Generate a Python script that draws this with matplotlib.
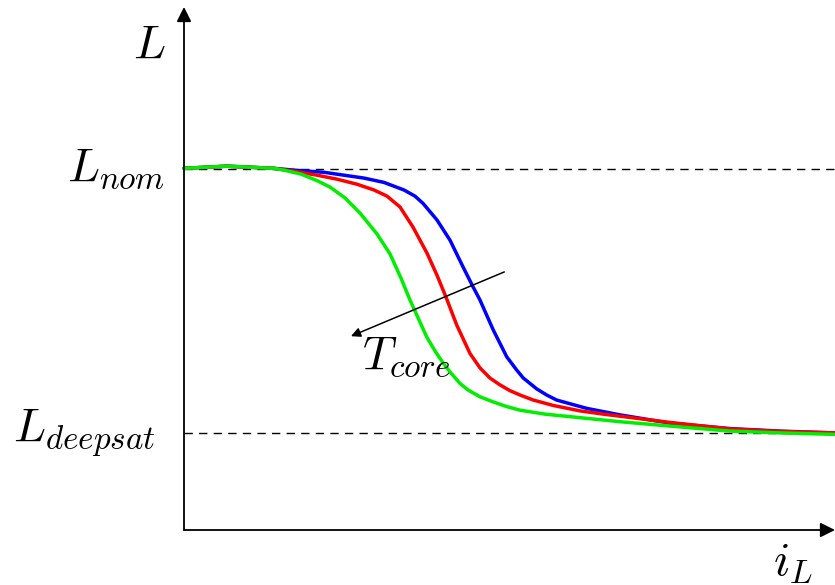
import numpy as np
import matplotlib
matplotlib.use("Agg")
import matplotlib.pyplot as plt

plt.rcParams['mathtext.fontset'] = 'cm'

# inductance vs. current, normalised so that L_nom = 1
L_NOM = 1.0
L_DEEPSAT = 0.27

# blue curve (lowest core temperature)
i_blue = [0.000, 0.661, 1.382, 1.690, 2.151, 2.458, 2.765, 3.072, 3.379, 3.548,
          3.671, 3.886, 4.086, 4.286, 4.439, 4.547, 4.751, 4.957, 5.111, 5.212,
          5.418, 5.571, 5.725, 6.186, 6.697, 7.465, 8.387, 9.155, 9.985]
L_blue = [1.002, 1.008, 1.002, 0.997, 0.991, 0.983, 0.975, 0.963, 0.942, 0.925,
          0.905, 0.859, 0.803, 0.729, 0.674, 0.637, 0.554, 0.480, 0.443, 0.421,
          0.391, 0.374, 0.360, 0.337, 0.319, 0.296, 0.281, 0.274, 0.269]

# red curve
i_red = [0.000, 0.661, 1.382, 1.690, 2.043, 2.350, 2.657, 2.919, 3.118, 3.318,
         3.518, 3.733, 3.886, 4.025, 4.189, 4.393, 4.547, 4.700, 4.854, 5.008,
         5.161, 5.366, 5.673, 6.083, 6.441, 7.465, 8.387, 9.155, 9.985]
L_red = [1.002, 1.008, 1.002, 0.994, 0.983, 0.972, 0.958, 0.942, 0.925, 0.895,
         0.839, 0.767, 0.706, 0.645, 0.568, 0.489, 0.449, 0.421, 0.402, 0.386,
         0.374, 0.360, 0.345, 0.330, 0.321, 0.298, 0.280, 0.273, 0.269]

# green curve (highest core temperature)
i_green = [0.000, 0.661, 1.382, 1.536, 1.797, 2.043, 2.243, 2.473, 2.704, 2.965,
           3.164, 3.333, 3.472, 3.728, 3.856, 3.983, 4.086, 4.240, 4.363, 4.547,
           4.747, 4.957, 5.161, 5.545, 5.929, 6.697, 7.465, 8.387, 9.155, 9.985]
L_green = [1.002, 1.008, 1.002, 0.997, 0.986, 0.968, 0.950, 0.920, 0.878, 0.820,
           0.765, 0.698, 0.637, 0.535, 0.496, 0.462, 0.438, 0.406, 0.388, 0.369,
           0.355, 0.342, 0.332, 0.321, 0.314, 0.300, 0.288, 0.274, 0.269, 0.265]

# temperature arrow, tail -> head
T_arrow_tail = (4.92, 0.715)
T_arrow_head = (2.565, 0.537)

X_MAX = 10.0
Y_MAX = 1.449

fig = plt.figure(figsize=(8.35, 5.85), dpi=100)
ax = fig.add_axes([184/835, 55/585, 651/835, 523/585])
ax.set_xlim(0, X_MAX)
ax.set_ylim(0, Y_MAX)
ax.axis('off')

# axes with arrow heads
arrow_kw = dict(arrowstyle='-|>', lw=1.3, color='black', mutation_scale=22,
                shrinkA=0, shrinkB=0)
ax.annotate('', xy=(0, Y_MAX), xytext=(0, 0), arrowprops=arrow_kw,
            annotation_clip=False)
ax.annotate('', xy=(X_MAX, 0), xytext=(0, 0), arrowprops=arrow_kw,
            annotation_clip=False)

# reference levels
ax.plot([0, X_MAX], [L_NOM, L_NOM], ls=(0, (6, 4.5)), lw=1.0, color='black')
ax.plot([0, X_MAX], [L_DEEPSAT, L_DEEPSAT], ls=(0, (6, 4.5)), lw=1.0, color='black')

lw = 2.5
for xs, ys, c in [(i_blue, L_blue, '#0000ff'),
                  (i_red, L_red, '#ff0000'),
                  (i_green, L_green, '#00ee00')]:
    ax.plot(xs, ys, color=c, lw=lw, solid_capstyle='round',
            solid_joinstyle='round', clip_on=False)

ax.annotate('', xy=T_arrow_head, xytext=T_arrow_tail,
            arrowprops=dict(arrowstyle='-|>', lw=1.1, color='black',
                            mutation_scale=14, shrinkA=0, shrinkB=0))

fs = 34
ax.text(-0.29, (530 - 58) / 361, r'$L$', fontsize=fs, ha='right', va='baseline')
ax.text(-0.29, (530 - 181) / 361, r'$L_{nom}$', fontsize=fs, ha='right', va='baseline')
ax.text(-0.44, (530 - 442) / 361, r'$L_{deepsat}$', fontsize=fs, ha='right', va='baseline')
ax.text((773 - 184) / 65.1, (530 - 575) / 361, r'$i_L$', fontsize=fs, ha='left',
        va='baseline', clip_on=False)
ax.text((362 - 184) / 65.1, (530 - 369) / 361, r'$T_{core}$', fontsize=fs, ha='left',
        va='baseline')

fig.savefig('out.png', dpi=100)
